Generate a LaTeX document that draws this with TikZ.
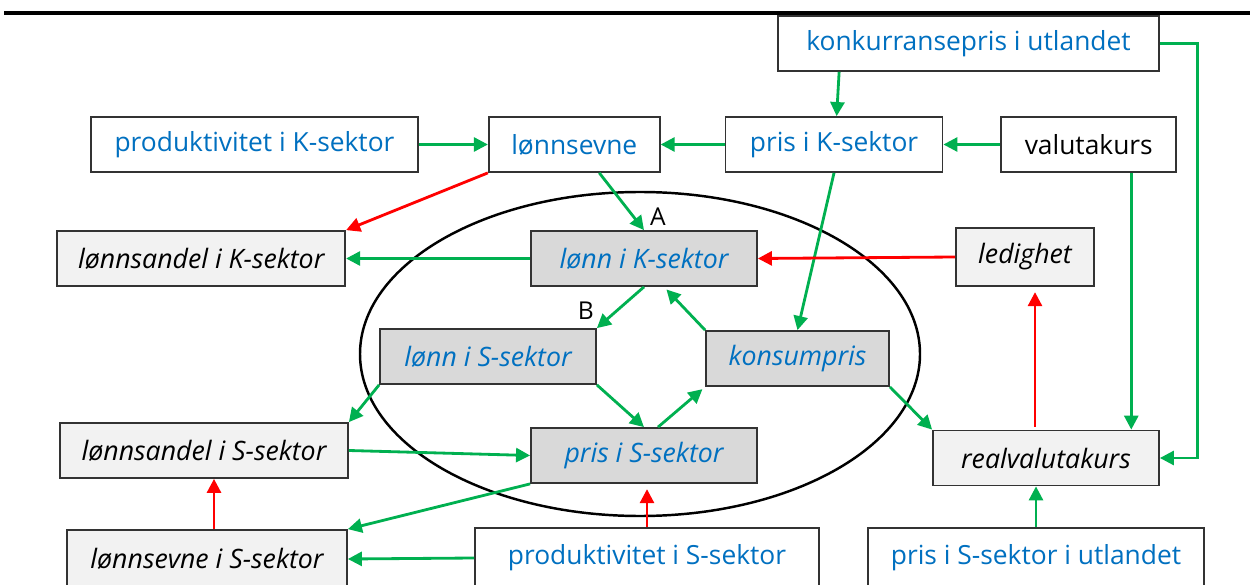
\documentclass[tikz,border=0pt]{standalone}
\usepackage{fontspec}
\setmainfont{Open Sans}
\usetikzlibrary{arrows.meta}
\usetikzlibrary{positioning}
\usetikzlibrary{calc}
\definecolor{txtblue}{HTML}{0070C0}
\definecolor{plusgreen}{HTML}{00B050}
\definecolor{minusred}{HTML}{FF0000}
\tikzstyle{block} = [draw = black!80, line width = 1pt, rectangle, inner sep = 0pt, minimum height = 1.1cm, font = \fontsize{15}{18}\selectfont]
\tikzstyle{extbox} = [block, fill = white, text = txtblue]
\tikzstyle{inbox} = [block, fill = black!15, text = txtblue, font = \fontsize{15.2}{18}\selectfont\itshape]
\tikzstyle{outbox} = [block, fill = black!5, font = \fontsize{15.2}{18}\selectfont\itshape]
\tikzstyle{plusarrow} = [draw = plusgreen, line width = 1.6pt, -{Triangle[length = 8pt, width = 8pt]}]
\tikzstyle{minusarrow} = [draw = minusred, line width = 1.6pt, -{Triangle[length = 8pt, width = 8pt]}]

\begin{document}
\begin{tikzpicture}
	\useasboundingbox (0,0) rectangle (25,-11.7);
	\draw[line width = 2.2pt] (0.08,-0.26) -- (25,-0.26);

	% Top row: external drivers
	\node[extbox, minimum width = 6.54cm] (prodK) at (5.09,-2.89) {produktivitet i K-sektor};
	\node[extbox, minimum width = 3.42cm, right = 1.38cm of prodK] (lonnsevne) {lønnsevne};
	\node[extbox, minimum width = 4.34cm, right = 1.28cm of lonnsevne] (prisK) {pris i K-sektor};
	\node[extbox, text = black, minimum width = 3.5cm, right = 1.14cm of prisK] (valuta) {valutakurs};
	\node[extbox, minimum width = 7.62cm] (konk) at (19.37,-0.87) {konkurransepris i utlandet};

	% Inside the ellipse
	\node[inbox, minimum width = 4.52cm] (lonnK) at (12.88,-5.17) {lønn i K-sektor};
	\node[inbox, minimum width = 4.32cm] (lonnS) at (9.76,-7.13) {lønn i S-sektor};
	\node[inbox, minimum width = 3.66cm] (konsum) at (15.95,-7.17) {konsumpris};
	\node[inbox, minimum width = 4.52cm] (prisS) at (12.88,-9.11) {pris i S-sektor};
	\draw[line width = 1.4pt] (12.8,-7.08) ellipse (5.6cm and 3.24cm);
	\node (labA) at ($(lonnK.north)+(0.28,0.26)$) {\fontsize{14}{17}\selectfont A};
	\node (labB) at ($(lonnS.north east)+(-0.22,0.34)$) {\fontsize{14}{17}\selectfont B};

	% Results
	\node[outbox, minimum width = 5.76cm, left = 3.68cm of lonnK] (lsandK) {lønnsandel i K-sektor};
	\node[outbox, minimum width = 2.76cm, minimum height = 1.16cm] (ledighet) at (20.5,-5.14) {ledighet};
	\node[outbox, minimum width = 5.76cm] (lsandS) at (4.08,-9.01) {lønnsandel i S-sektor};
	\node[outbox, minimum width = 4.52cm] (real) at (20.92,-9.16) {realvalutakurs};

	% Bottom row
	\node[outbox, minimum width = 5.6cm, minimum height = 1.16cm] (lsevneS) at (4.14,-11.18) {lønnsevne i S-sektor};
	\node[extbox, minimum width = 6.88cm, minimum height = 1.2cm] (prodS) at (12.94,-11.16) {produktivitet i S-sektor};
	\node[extbox, minimum width = 6.72cm, minimum height = 1.2cm] (utl) at (20.72,-11.16) {pris i S-sektor i utlandet};

	% Connect top row
	\draw[plusarrow] (prodK.east) -- (lonnsevne.west);
	\draw[plusarrow] (prisK.west) -- (lonnsevne.east);
	\draw[plusarrow] (valuta.west) -- (prisK.east);
	\draw[plusarrow] ($(konk.south west)+(1.24,0)$) -- ($(prisK.north west)+(2.24,0)$);
	\draw[minusarrow] (lonnsevne.south west) -- (lsandK.north east);
	\draw[plusarrow] ($(lonnsevne.south)+(0.5,0)$) -- (lonnK.north);
	\draw[plusarrow] (prisK.south) -- (konsum.north);

	% Connect the loop
	\draw[plusarrow] (lonnK.west) -- (lsandK.east);
	\draw[minusarrow] (ledighet.west) -- (lonnK.east);
	\draw[plusarrow] (lonnK.south) -- (lonnS.north east);
	\draw[plusarrow, shorten > = 2pt] (konsum.north west) -- ($(lonnK.south)+(0.4,0)$);
	\draw[plusarrow] (lonnS.south west) -- (lsandS.north east);
	\draw[plusarrow] (lonnS.south east) -- (prisS.north);
	\draw[plusarrow, shorten > = 2pt] ($(prisS.north)+(0.28,0)$) -- (konsum.south west);
	\draw[plusarrow] (konsum.south east) -- (real.north west);
	\draw[plusarrow] (lsandS.east) -- (prisS.west);
	\draw[plusarrow] (prisS.south west) -- (lsevneS.north east);

	% Bottom connections
	\coordinate (sup) at ($(lsevneS.north)+(0.14,0)$);
	\draw[minusarrow] (sup) -- (sup |- lsandS.south);
	\draw[plusarrow] (prodS.west) -- (lsevneS.east);
	\draw[minusarrow, shorten > = 3pt] (prodS.north) -- (prodS.north |- prisS.south);
	\draw[plusarrow] (utl.north) -- (utl.north |- real.south);

	% Right side
	\coordinate (vdrop) at ($(valuta.south)+(0.85,0)$);
	\draw[plusarrow] (vdrop) -- (vdrop |- real.north);
	\draw[plusarrow] (konk.east) -- ++(0.76,0) |- (real.east);
	\coordinate (rup) at ($(real.north)+(-0.22,0)$);
	\draw[minusarrow, shorten > = 3pt, shorten < = 1.5pt] (rup) -- (rup |- ledighet.south);
\end{tikzpicture}
\end{document}
